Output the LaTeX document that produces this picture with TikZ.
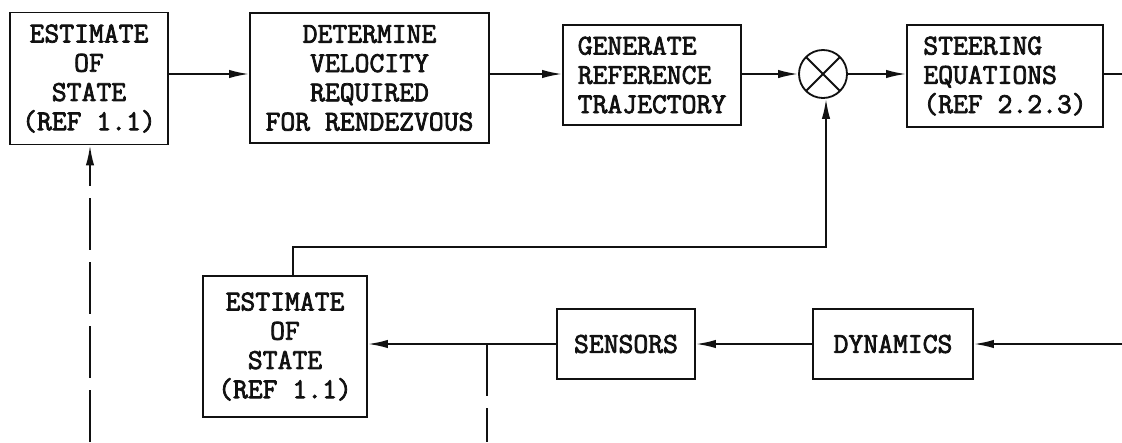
\documentclass[tikz,border=0pt]{standalone}
\usepackage{fontspec}
\setmonofont{Latin Modern Mono}[AutoFakeBold=2.6]
\usepackage{tikz}
\usetikzlibrary{arrows.meta,calc,positioning}
\definecolor{ink}{HTML}{111111}
\tikzset{
  every node/.style={font=\ttfamily\bfseries\fontsize{20.5pt}{20.8pt}\selectfont, text=ink},
  flow/.style={-{Latex[length=5mm,width=2.1mm]}, draw=ink, line width=1.3pt},
  line/.style={draw=ink, line width=1.3pt},
  dashline/.style={line, dash pattern=on 1.3cm off 0.3cm},
  box/.style={rectangle, draw=ink, line width=1.3pt, align=center,
    inner sep=2pt},
  leftbox/.style={box, align=left},
  mixer/.style={circle, draw=ink, line width=1.3pt, minimum size=1.2cm,
    inner sep=0pt, path picture={
      \draw[ink, line width=1.3pt]
        (path picture bounding box.north west) -- (path picture bounding box.south east)
        (path picture bounding box.north east) -- (path picture bounding box.south west);}}
}
\begin{document}
\begin{tikzpicture}[x=0.025cm,y=-0.025cm]
  \useasboundingbox (0,0) rectangle (1122,442);

  % Forward path along the top row.
  \node[box, minimum width=3.95cm, minimum height=3.3cm] (est1) at (89,78.5)
    {ESTIMATE\\OF\\STATE\\(REF 1.1)};
  \node[box, minimum width=5.975cm, minimum height=3.25cm] (vel) at (369.5,78)
    {DETERMINE\\VELOCITY\\REQUIRED\\FOR RENDEZVOUS};
  \node[leftbox, minimum width=4.45cm, minimum height=2.5cm] (gen) at (652,75)
    {GENERATE\\REFERENCE\\TRAJECTORY};
  \node[mixer] (mix) at (823,74) {};
  \node[leftbox, minimum width=4.9cm, minimum height=2.55cm] (steer) at (1005,76)
    {STEERING\\EQUATIONS\\(REF 2.2.3)};
  \coordinate (outR) at (1122,74);

  \draw[flow] (est1.east |- mix) -- (vel.west |- mix);
  \draw[flow] (vel.east |- mix) -- (gen.west |- mix);
  \draw[flow] (gen.east |- mix) -- (mix.west);
  \draw[flow] (mix.east) -- (steer.west |- mix);
  \draw[line] (steer.east |- mix) -- (outR);

  % Measurement loop along the bottom row.
  \node[box, minimum width=4.1cm, minimum height=3.525cm] (est2) at (285,346.5)
    {ESTIMATE\\OF\\STATE\\(REF 1.1)};
  \node[box, minimum width=3.45cm, minimum height=1.75cm] (sens) at (626,344)
    {SENSORS};
  \node[box, minimum width=4.0cm, minimum height=1.75cm] (dyn) at (893,344)
    {DYNAMICS};
  \coordinate (inR) at (1122,344);
  \coordinate (fb) at (293,247);
  \coordinate (tap) at (487,344);
  \coordinate (botA) at (90,442);
  \coordinate (botB) at (487,442);

  \draw[flow] (inR) -- (dyn.east);
  \draw[flow] (dyn.west) -- (sens.east);
  \draw[flow] (sens.west) -- (est2.east |- sens);
  \draw[flow] (est2.north -| fb) -- (fb) -| ([xshift=0.075cm]mix.south);

  % Dashed links.
  \draw[dashline] (tap) -- (botB);
  \draw[dashline, -{Latex[length=5mm,width=2.1mm]}] (botA) -- (est1.south -| botA);
\end{tikzpicture}
\end{document}
